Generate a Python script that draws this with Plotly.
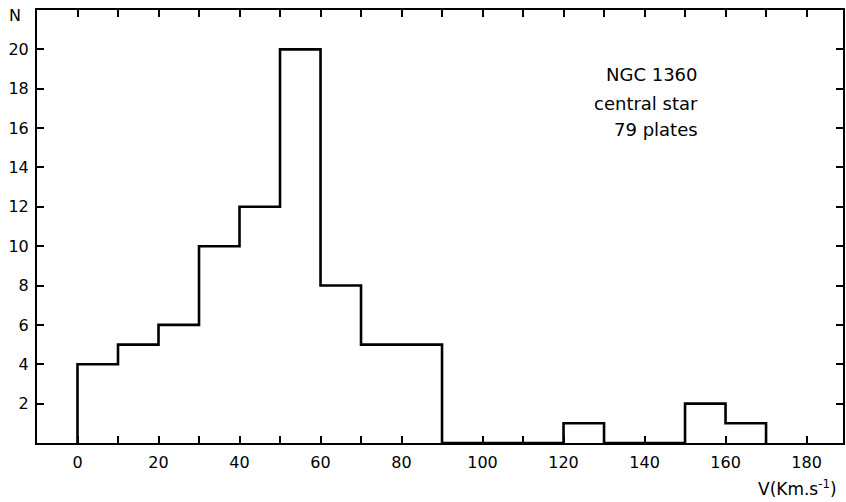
import plotly.graph_objects as go

# Data: velocity bins (lower edges, width 10 km/s) and counts
bin_edges = [0, 10, 20, 30, 40, 50, 60, 70, 80, 90, 100, 110, 120, 130, 140, 150, 160, 170]
counts = [4, 5, 6, 10, 12, 20, 8, 5, 5, 0, 0, 0, 1, 0, 0, 2, 1]

x_tickvals = list(range(0, 190, 10))
x_ticktext = [str(v) if v % 20 == 0 else "" for v in x_tickvals]
y_tickvals = list(range(2, 22, 2))
y_ticktext = [str(v) for v in y_tickvals]

label_lines = ["NGC 1360", "central star", "79 plates"]

# Build step outline from data
xs = [bin_edges[0]]
ys = [0]
for i, c in enumerate(counts):
    xs += [bin_edges[i], bin_edges[i + 1]]
    ys += [c, c]
xs.append(bin_edges[-1])
ys.append(0)

FONT = "DejaVu Sans"

fig = go.Figure()
fig.add_trace(go.Scatter(x=xs, y=ys, mode="lines",
                         line=dict(color="black", width=2.6),
                         hoverinfo="skip", showlegend=False))

axis_common = dict(ticks="inside", ticklen=7, tickwidth=2, tickcolor="black",
                   showline=True, linecolor="black", linewidth=2, mirror="allticks",
                   showgrid=False, zeroline=False, tickfont=dict(size=16))

fig.update_layout(
    width=846, height=502,
    margin=dict(l=37, r=3, t=10, b=59, autoexpand=False),
    paper_bgcolor="white", plot_bgcolor="white",
    font=dict(family=FONT, size=16, color="black"),
    xaxis=dict(range=[-10, 189], tickvals=x_tickvals, ticktext=x_ticktext,
               ticklabelstandoff=4, **axis_common),
    yaxis=dict(range=[0, 22], tickvals=y_tickvals, ticktext=y_ticktext,
               ticklabelstandoff=3, **axis_common),
)

annots = [
    dict(text="N", x=-0.027, y=0.988, xanchor="center", yanchor="middle",
         font=dict(size=16)),
    dict(text="V(Km.s<sup>-1</sup>)", x=0.995, y=-0.104, xanchor="right",
         yanchor="middle", font=dict(size=17)),
]
label_y = [0.850, 0.785, 0.723]
for txt, yy in zip(label_lines, label_y):
    annots.append(dict(text=txt, x=0.822, y=yy, xanchor="right", yanchor="middle",
                       font=dict(size=18)))
for a in annots:
    a.update(xref="paper", yref="paper", showarrow=False)
fig.update_layout(annotations=annots)

fig.write_html("out.html", config={"displayModeBar": False},
               post_script="document.body.style.margin='0';document.body.style.overflow='hidden';")
